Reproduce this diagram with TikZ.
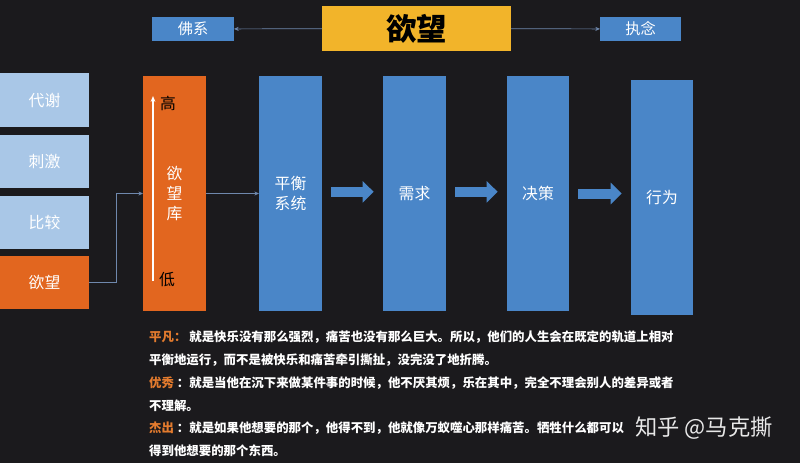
\documentclass[tikz,border=0pt]{standalone}
\usepackage{fontspec}
\newfontfamily\cjk{Noto Sans CJK SC}
\usetikzlibrary{arrows.meta}
\definecolor{bgdark}{HTML}{1B1A1D}
\definecolor{gold}{HTML}{F2B42A}
\definecolor{midblue}{HTML}{4A86C8}
\definecolor{paleblue}{HTML}{A9C7E7}
\definecolor{burnt}{HTML}{E2661F}
\definecolor{linkgray}{HTML}{6F88AD}
\definecolor{notetone}{HTML}{E37B2E}
\tikzset{
  base/.style={inner sep=0pt, outer sep=0pt, text=white, align=center, font=\cjk\fontsize{13.5}{17}\selectfont},
  lightcell/.style={base, fill=paleblue},
  bluecell/.style={base, fill=midblue},
  orangecell/.style={base, fill=burnt},
  goldcell/.style={base, fill=gold, text=black, font=\cjk\bfseries\fontsize{26}{28}\selectfont},
  thinlink/.style={draw=linkgray, line width=0.6pt, -{Stealth[length=4pt,width=3.5pt]}},
  fatlink/.style={draw=midblue, line width=0.3cm, -{Triangle[length=0.33cm,width=0.63cm]}, shorten <=0.27cm, shorten >=0.28cm},
  note/.style={anchor=west, inner sep=0pt, text=white, font=\cjk\bfseries\fontsize{10.6}{12}\selectfont},
}
% name, x1, y1, x2, y2, style, text
\newcommand{\block}[7]{\node[#6, minimum width={(#4-#2)*0.03cm}, minimum height={(#5-#3)*0.03cm}] (#1) at ({(#2+#4)/2},{(#3+#5)/2}) {#7};}

\begin{document}
\begin{tikzpicture}[x=0.03cm, y=-0.03cm]
    \fill[bgdark] (0,0) rectangle (800,463);
    \useasboundingbox (0,0) rectangle (800,463);
    % top row
    \block{title}{322}{6}{511}{51}{goldcell}{欲望}
    \block{foxi}{152}{17}{234}{41}{bluecell, font=\cjk\fontsize{13}{15}\selectfont}{佛系}
    \block{zhinian}{600}{17}{681}{41}{bluecell, font=\cjk\fontsize{13}{15}\selectfont}{执念}
    \draw[thinlink] (title) -- (foxi);
    \draw[thinlink] (title) -- (zhinian);
    % left column
    \block{daixie}{0}{73}{89}{127}{lightcell}{代谢}
    \block{ciji}{0}{135}{89}{188}{lightcell}{刺激}
    \block{bijiao}{0}{196}{89}{249}{lightcell}{比较}
    \block{yuwang}{0}{256}{89}{309}{orangecell}{欲望}
    % desire store
    \block{ku}{143}{76}{206}{311}{orangecell}{欲\\望\\库}
    \coordinate (lo) at (153,281);
    \coordinate (hi) at (153,96);
    \draw[white, line width=1pt, -{Stealth[length=5pt,width=4pt]}] (lo) -- (hi);
    \node[base, text=black] (gao) at (168,103) {高};
    \node[base, text=black] (di) at (167,280) {低};
    \draw[thinlink] (yuwang.east) -- ++(27,0) |- (ku.west);
    % chain
    \block{pingheng}{259}{76}{322}{311}{bluecell}{平衡\\系统}
    \block{xuqiu}{383}{76}{446}{311}{bluecell}{需求}
    \block{juece}{507}{76}{569}{311}{bluecell}{决策}
    \block{xingwei}{631}{80}{693}{315}{bluecell}{行为}
    \draw[thinlink] (ku.east) -- (pingheng.west);
    \draw[fatlink] ([yshift=0.05cm]pingheng.east) -- ([yshift=0.05cm]pingheng.east -| xuqiu.west);
    \draw[fatlink] ([yshift=0.05cm]xuqiu.east) -- ([yshift=0.05cm]xuqiu.east -| juece.west);
    \draw[fatlink] (juece.east) -- (juece.east -| xingwei.west);
    % notes
    \node[note] (n1) at (149,337) {{\color{notetone}平凡：} 就是快乐没有那么强烈，痛苦也没有那么巨大。所以，他们的人生会在既定的轨道上相对};
    \node[note] (n2) at (149,360) {平衡地运行，而不是被快乐和痛苦牵引撕扯，没完没了地折腾。};
    \node[note] (n3) at (149,383) {{\color{notetone}优秀} ：就是当他在沉下来做某件事的时候，他不厌其烦，乐在其中，完全不理会别人的差异或者};
    \node[note] (n4) at (149,406) {不理解。};
    \node[note] (n5) at (149,428) {{\color{notetone}杰出} ：就是如果他想要的那个，他得不到，他就像万蚁噬心那样痛苦。牺牲什么都可以};
    \node[note] (n6) at (149,451) {得到他想要的那个东西。};
    \node[base, text=white, opacity=0.9, font=\cjk\fontsize{19}{22}\selectfont] (mark) at (704,428) {知乎 @马克撕};
\end{tikzpicture}
\end{document}
